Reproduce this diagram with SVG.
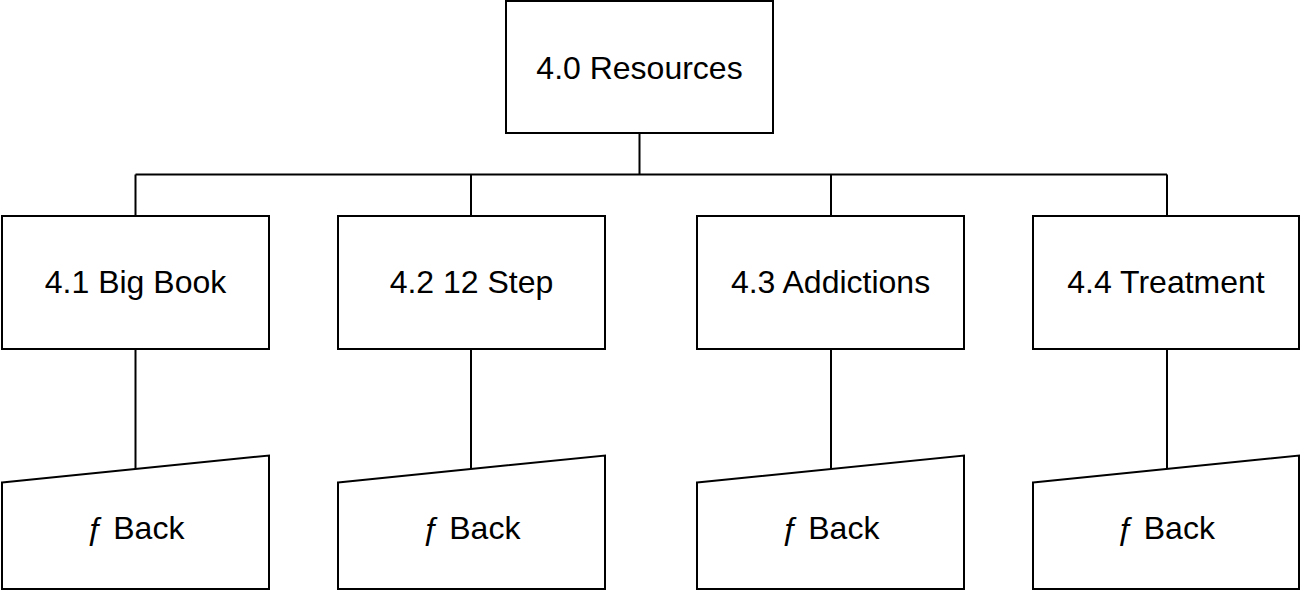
<svg xmlns="http://www.w3.org/2000/svg" width="1301" height="591" viewBox="0 0 1301 591">
<style>
.box{fill:#fff;stroke:#000;stroke-width:2}
.con{fill:none;stroke:#000;stroke-width:2}
text{font-family:"Liberation Sans",Arial,sans-serif;font-size:32px;fill:#000;text-anchor:middle}
</style>
<rect width="1301" height="591" fill="#fff"/>
<g id="connectors">
<path class="con" d="M639.5 133V174.5M135.5 174.5H1167M135.5 174.5V216M471 174.5V216M831 174.5V216M1167 174.5V216"/>
<path class="con" d="M135.5 349V469M471 349V469M831 349V469M1167 349V469"/>
</g>
<g id="n40"><rect class="box" x="506" y="1" width="267" height="132"/><text x="639.5" y="79">4.0 Resources</text></g>
<g id="n41"><rect class="box" x="2" y="216" width="267" height="133"/><text x="135.5" y="293">4.1 Big Book</text></g>
<g id="n42"><rect class="box" x="338" y="216" width="267" height="133"/><text x="471.5" y="293">4.2 12 Step</text></g>
<g id="n43"><rect class="box" x="697" y="216" width="267" height="133"/><text x="830.5" y="293">4.3 Addictions</text></g>
<g id="n44"><rect class="box" x="1033" y="216" width="266" height="133"/><text x="1166" y="293">4.4 Treatment</text></g>
<g id="b1"><path class="box" d="M2 482.5L269 455.5V589H2Z"/><text x="135.5" y="539">ƒ Back</text></g>
<g id="b2"><path class="box" d="M338 482.5L605 455.5V589H338Z"/><text x="471.5" y="539">ƒ Back</text></g>
<g id="b3"><path class="box" d="M697 482.5L964 455.5V589H697Z"/><text x="830.5" y="539">ƒ Back</text></g>
<g id="b4"><path class="box" d="M1033 482.5L1299 455.5V589H1033Z"/><text x="1166" y="539">ƒ Back</text></g>
</svg>
